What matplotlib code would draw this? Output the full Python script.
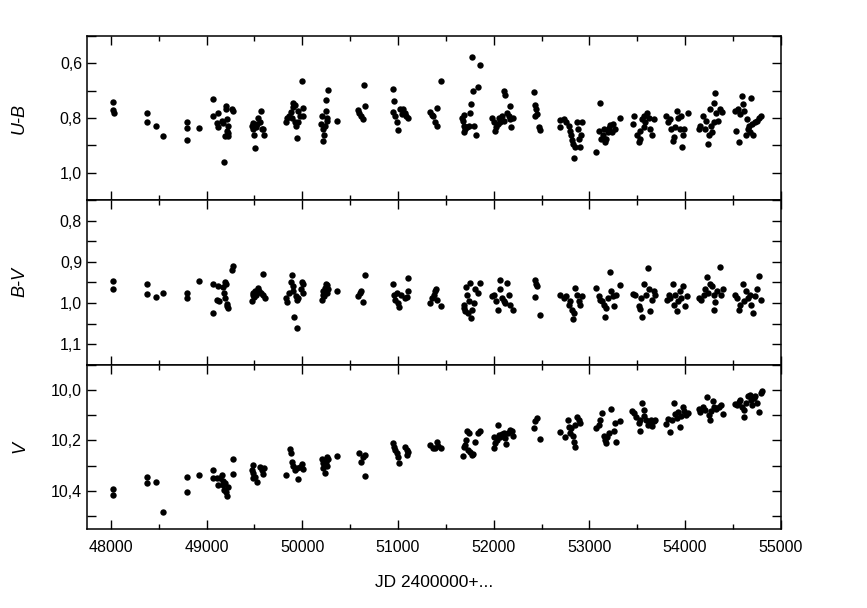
import matplotlib
matplotlib.use("Agg")
import matplotlib.pyplot as plt
from matplotlib.ticker import MultipleLocator, FuncFormatter

plt.rcParams['font.family'] = ['Liberation Sans', 'DejaVu Sans']

# ---------------- U-B ----------------
ub_jd = [48020, 48025, 48030, 48373, 48373, 48470, 48540, 48791, 48791, 48791, 48920,
         49063, 49070, 49115, 49111, 49122, 49157, 49167, 49185, 49199, 49199, 49209, 49219, 49209, 49192, 49226, 49226, 49279, 49261,
         49470, 49481, 49488, 49498, 49505, 49516, 49530, 49540, 49557, 49564, 49575, 49592, 49603,
         49826, 49843, 49864, 49878, 49888, 49899, 49906, 49923, 49923, 49934, 49948, 49958, 49958, 49976, 50000, 50003, 50003,
         50202, 50191, 50212, 50219, 50226, 50237, 50244, 50254, 50261, 50247, 50272, 50359,
         50585, 50596, 50613, 50630, 50655, 50648,
         50951, 50958, 50951, 50968, 50986, 51003, 51021, 51038, 51055, 51073, 51083, 51108,
         51334, 51352, 51369, 51387, 51404, 51404, 51449,
         51669, 51679, 51686, 51693, 51704, 51686, 51721, 51739, 51749, 51763, 51774, 51784, 51791, 51819, 51836, 51854,
         51983, 52007, 52017, 52028, 52042, 52052, 52063, 52087, 52105, 52111, 52122, 52139, 52157, 52167, 52174, 52181, 52202,
         52425, 52436, 52446, 52453, 52436, 52470, 52488,
         52690, 52697, 52739, 52760, 52784, 52801, 52812, 52819, 52829, 52843, 52854, 52871, 52878, 52888, 52906, 52923, 52913,
         53073, 53097, 53115, 53122, 53143, 53157, 53167, 53178, 53192, 53202, 53219, 53237, 53247, 53272, 53317,
         53456, 53463, 53498, 53516, 53526, 53533, 53550, 53568, 53585, 53603, 53620, 53638, 53655, 53672, 53575,
         53805, 53819, 53840, 53854, 53874, 53881, 53899, 53916, 53923, 53944, 53958, 53969, 53979, 53993, 54028,
         54143, 54160, 54188, 54205, 54223, 54240, 54247, 54258, 54272, 54282, 54300, 54306, 54317, 54327, 54341, 54362, 54387,
         54526, 54533, 54554, 54568, 54578, 54596, 54606, 54620, 54641, 54648, 54655, 54665, 54683, 54693, 54700, 54711, 54735, 54752, 54770, 54794]
ub_val = [0.741, 0.770, 0.783, 0.783, 0.816, 0.828, 0.867, 0.816, 0.837, 0.879, 0.837,
          0.729, 0.794, 0.780, 0.819, 0.834, 0.810, 0.818, 0.962, 0.756, 0.768, 0.804, 0.828, 0.846, 0.867, 0.867, 0.854, 0.774, 0.768,
          0.828, 0.840, 0.819, 0.861, 0.911, 0.834, 0.822, 0.801, 0.816, 0.776, 0.840, 0.840, 0.861,
          0.813, 0.801, 0.794, 0.777, 0.798, 0.758, 0.744, 0.753, 0.816, 0.828, 0.873, 0.813, 0.774, 0.792, 0.666, 0.762, 0.792,
          0.792, 0.822, 0.840, 0.885, 0.863, 0.828, 0.734, 0.798, 0.810, 0.774, 0.696, 0.810,
          0.770, 0.780, 0.794, 0.804, 0.756, 0.681,
          0.693, 0.738, 0.777, 0.794, 0.816, 0.842, 0.768, 0.786, 0.768, 0.780, 0.794, 0.801,
          0.777, 0.789, 0.794, 0.816, 0.830, 0.762, 0.666,
          0.798, 0.810, 0.789, 0.828, 0.840, 0.851, 0.834, 0.828, 0.780, 0.750, 0.578, 0.702, 0.828, 0.861, 0.686, 0.606,
          0.798, 0.816, 0.846, 0.834, 0.822, 0.801, 0.813, 0.792, 0.810, 0.702, 0.717, 0.780, 0.794, 0.756, 0.804, 0.834, 0.801,
          0.704, 0.753, 0.768, 0.786, 0.794, 0.834, 0.842,
          0.806, 0.834, 0.804, 0.816, 0.828, 0.846, 0.861, 0.881, 0.893, 0.945, 0.905, 0.816, 0.840, 0.875, 0.905, 0.816, 0.863,
          0.923, 0.846, 0.744, 0.875, 0.863, 0.840, 0.887, 0.875, 0.851, 0.837, 0.825, 0.851, 0.822, 0.840, 0.798,
          0.822, 0.794, 0.863, 0.887, 0.875, 0.846, 0.804, 0.792, 0.816, 0.780, 0.801, 0.840, 0.863, 0.804, 0.834,
          0.792, 0.816, 0.804, 0.840, 0.885, 0.869, 0.834, 0.774, 0.801, 0.840, 0.792, 0.905, 0.863, 0.840, 0.780,
          0.840, 0.830, 0.794, 0.840, 0.810, 0.893, 0.863, 0.768, 0.828, 0.851, 0.816, 0.746, 0.708, 0.780, 0.810, 0.768, 0.777,
          0.774, 0.849, 0.768, 0.887, 0.786, 0.720, 0.750, 0.774, 0.863, 0.804, 0.840, 0.828, 0.851, 0.726, 0.822, 0.861, 0.816, 0.810, 0.798, 0.792]

# ---------------- B-V ----------------
bv_jd = [48024, 48024, 48373, 48373, 48470, 48540, 48791, 48791, 48920,
         49063, 49070, 49115, 49111, 49129, 49174, 49185, 49192, 49202, 49192, 49209, 49219, 49209, 49261, 49279,
         49470, 49481, 49488, 49495, 49505, 49516, 49540, 49550, 49564, 49585, 49592, 49610,
         49826, 49836, 49864, 49878, 49888, 49899, 49906, 49916, 49934, 49941, 49948, 49958, 49983, 49993, 50003, 50010,
         50202, 50212, 50219, 50226, 50237, 50247, 50254, 50261, 50272, 50359,
         50585, 50603, 50613, 50630, 50655,
         50951, 50958, 50968, 50986, 51003, 51014, 51028, 51073, 51090, 51101, 51108,
         51334, 51352, 51376, 51387, 51397, 51411, 51446,
         51686, 51693, 51704, 51714, 51721, 51728, 51739, 51749, 51763, 51774, 51791, 51808, 51833, 51854,
         51983, 52007, 52028, 52042, 52063, 52070, 52087, 52105, 52122, 52139, 52157, 52174, 52202,
         52436, 52446, 52453, 52429, 52488,
         52690, 52732, 52760, 52784, 52801, 52819, 52829, 52836, 52854, 52871, 52888, 52906, 52923,
         53073, 53097, 53115, 53132, 53150, 53167, 53178, 53192, 53212, 53226, 53247, 53261, 53282, 53317,
         53456, 53481, 53516, 53533, 53540, 53554, 53575, 53596, 53610, 53620, 53638, 53655, 53672, 53690,
         53812, 53829, 53847, 53874, 53881, 53899, 53916, 53923, 53944, 53958, 53979, 54003, 54021,
         54143, 54167, 54195, 54212, 54230, 54240, 54258, 54282, 54300, 54306, 54317, 54334, 54362, 54376, 54397,
         54526, 54543, 54561, 54578, 54606, 54620, 54641, 54655, 54676, 54690, 54711, 54735, 54752, 54770, 54794]
bv_val = [0.947, 0.967, 0.955, 0.977, 0.986, 0.976, 0.976, 0.988, 0.947,
          1.024, 0.955, 0.959, 0.994, 0.996, 0.962, 0.976, 0.949, 0.955, 0.989, 1.002, 1.012, 1.008, 0.921, 0.910,
          0.996, 0.980, 0.976, 0.986, 0.971, 0.980, 0.963, 0.971, 0.976, 0.929, 0.980, 0.988,
          0.988, 0.998, 0.976, 0.949, 0.931, 0.959, 0.971, 1.035, 0.984, 1.061, 0.994, 0.988, 0.967, 0.949, 0.955, 0.976,
          0.992, 0.980, 0.971, 0.984, 0.963, 0.955, 0.957, 0.976, 0.967, 0.971,
          0.984, 0.976, 0.971, 0.998, 0.931,
          0.955, 0.980, 0.994, 0.976, 1.000, 1.011, 0.980, 0.989, 0.986, 0.971, 0.940,
          1.000, 0.988, 0.980, 0.970, 0.965, 0.994, 1.007,
          1.004, 1.012, 1.020, 0.962, 0.980, 1.024, 0.996, 0.951, 1.037, 1.016, 1.000, 0.967, 0.976, 0.951,
          0.984, 0.980, 0.996, 1.016, 0.943, 0.967, 0.988, 0.996, 1.000, 0.951, 0.980, 1.004, 1.016,
          0.945, 0.955, 0.959, 0.986, 1.029,
          0.980, 0.988, 0.984, 1.004, 0.996, 1.016, 1.038, 1.024, 0.963, 0.980, 0.996, 1.004, 0.984,
          0.963, 0.984, 0.992, 0.996, 1.004, 1.033, 1.012, 0.988, 0.924, 0.971, 0.984, 1.008, 0.980, 0.957,
          0.977, 0.980, 1.008, 1.014, 0.989, 1.035, 0.955, 0.980, 0.914, 0.965, 1.020, 0.994, 0.971, 0.980,
          0.994, 0.980, 0.988, 0.953, 1.004, 0.980, 1.020, 0.996, 0.971, 0.988, 0.959, 1.008, 0.984,
          0.988, 0.994, 0.980, 0.967, 0.937, 0.976, 0.955, 0.959, 1.016, 0.980, 0.998, 0.971, 0.913, 0.980, 0.967,
          0.980, 0.988, 1.016, 1.004, 0.953, 0.996, 0.971, 0.988, 0.980, 1.004, 1.024, 0.984, 0.967, 0.935, 0.992]

# ---------------- V ----------------
v_jd = [48024, 48024, 48373, 48373, 48470, 48540, 48791, 48791, 48920,
        49070, 49063, 49104, 49115, 49139, 49157, 49167, 49174, 49185, 49192, 49202, 49209, 49219, 49272, 49279,
        49481, 49470, 49488, 49481, 49505, 49530, 49557, 49575, 49592, 49603,
        49829, 49871, 49878, 49892, 49906, 49923, 49941, 49958, 49976, 49993, 50003,
        50202, 50212, 50219, 50237, 50247, 50254, 50261, 50272, 50359,
        50596, 50610, 50630, 50655, 50655,
        50951, 50958, 50968, 50986, 51003, 51014, 51073, 51090, 51097, 51108,
        51334, 51362, 51387, 51404, 51421, 51446,
        51679, 51686, 51704, 51714, 51721, 51728, 51739, 51756, 51774, 51784, 51808, 51833, 51854,
        52000, 52007, 52017, 52035, 52042, 52052, 52070, 52087, 52105, 52122, 52132, 52146, 52167, 52192, 52202,
        52418, 52436, 52453, 52488,
        52690, 52749, 52777, 52784, 52794, 52808, 52829, 52836, 52847, 52854, 52871, 52888, 52906,
        53073, 53097, 53115, 53132, 53150, 53167, 53178, 53185, 53202, 53226, 53254, 53272, 53282, 53317,
        53446, 53463, 53491, 53516, 53526, 53533, 53550, 53568, 53575, 53596, 53610, 53631, 53644, 53655, 53672, 53690,
        53805, 53819, 53847, 53864, 53881, 53899, 53916, 53923, 53944, 53958, 53979, 53993, 54014, 54028,
        54143, 54160, 54188, 54212, 54230, 54247, 54258, 54272, 54293, 54306, 54327, 54352, 54376, 54397,
        54526, 54543, 54561, 54578, 54596, 54613, 54620, 54641, 54655, 54676, 54690, 54700, 54718, 54735, 54752, 54770, 54794, 54805]
v_val = [10.393, 10.416, 10.343, 10.367, 10.366, 10.484, 10.346, 10.405, 10.337,
         10.317, 10.350, 10.350, 10.376, 10.350, 10.337, 10.359, 10.376, 10.396, 10.370, 10.403, 10.418, 10.383, 10.275, 10.333,
         10.297, 10.317, 10.330, 10.350, 10.343, 10.363, 10.304, 10.317, 10.333, 10.310,
         10.337, 10.235, 10.248, 10.284, 10.301, 10.317, 10.310, 10.352, 10.306, 10.293, 10.314,
         10.275, 10.290, 10.310, 10.327, 10.284, 10.301, 10.264, 10.275, 10.261,
         10.251, 10.284, 10.267, 10.257, 10.339,
         10.209, 10.227, 10.238, 10.251, 10.264, 10.288, 10.224, 10.257, 10.238, 10.244,
         10.218, 10.231, 10.231, 10.205, 10.222, 10.231,
         10.261, 10.227, 10.218, 10.198, 10.161, 10.238, 10.169, 10.244, 10.257, 10.253, 10.205, 10.169, 10.161,
         10.187, 10.231, 10.211, 10.198, 10.139, 10.178, 10.185, 10.174, 10.169, 10.191, 10.214, 10.169, 10.158, 10.161, 10.182,
         10.152, 10.125, 10.112, 10.194,
         10.165, 10.187, 10.119, 10.145, 10.169, 10.152, 10.182, 10.205, 10.227, 10.139, 10.108, 10.121, 10.129,
         10.152, 10.139, 10.119, 10.092, 10.182, 10.198, 10.211, 10.187, 10.172, 10.077, 10.161, 10.132, 10.205, 10.125,
         10.082, 10.092, 10.108, 10.132, 10.161, 10.121, 10.053, 10.079, 10.103, 10.119, 10.139, 10.129, 10.119, 10.143, 10.125, 10.121,
         10.135, 10.116, 10.165, 10.119, 10.053, 10.095, 10.112, 10.086, 10.145, 10.103, 10.066, 10.082, 10.099, 10.092,
         10.077, 10.086, 10.066, 10.079, 10.029, 10.099, 10.121, 10.082, 10.042, 10.066, 10.077, 10.069, 10.059, 10.095,
         10.055, 10.059, 10.046, 10.040, 10.066, 10.108, 10.079, 10.053, 10.026, 10.020, 10.040, 10.059, 10.033, 10.026, 10.050, 10.086, 10.013, 10.003]

panel_labels = ["U-B", "B-V", "V"]
x_label = "JD 2400000+..."

fig = plt.figure(figsize=(8.67, 6.08), dpi=100)
left, right = 0.1003, 0.9005
top, bottom = 0.941, 0.130
h = (top - bottom) / 3.0
axes = [fig.add_axes([left, top - (i + 1) * h, right - left, h]) for i in range(3)]

comma = FuncFormatter(lambda v, p: ("%.1f" % v).replace(".", ","))

specs = [
    (ub_jd, ub_val, (1.1, 0.5), 0.2, 0.1),
    (bv_jd, bv_val, (1.15, 0.75), 0.1, 0.05),
    (v_jd, v_val, (10.55, 9.9), 0.2, 0.1),
]

for ax, (xs, ys, ylim, maj, mnr), lab in zip(axes, specs, panel_labels):
    ax.plot(xs, ys, 'o', color='black', markersize=4.6, markeredgewidth=0, linestyle='none')
    ax.set_xlim(47750, 55000)
    ax.set_ylim(*ylim)
    ax.xaxis.set_major_locator(MultipleLocator(1000))
    ax.xaxis.set_minor_locator(MultipleLocator(500))
    ax.yaxis.set_major_locator(MultipleLocator(maj))
    ax.yaxis.set_minor_locator(MultipleLocator(mnr))
    ax.yaxis.set_major_formatter(comma)
    ax.tick_params(which='both', direction='in', top=True, right=True,
                   width=1.0, labelsize=11.5, colors='black')
    ax.tick_params(which='major', length=6.5)
    ax.tick_params(axis='y', which='minor', length=6.5)
    ax.tick_params(axis='x', which='minor', length=3.8)
    for s in ax.spines.values():
        s.set_linewidth(1.1)
    ax.set_ylabel(lab, fontsize=13, style='italic')
    ax.yaxis.set_label_coords(-0.085, 0.5)
    if ax is not axes[-1]:
        ax.tick_params(labelbottom=False)

axes[-1].tick_params(axis='x', pad=8)
axes[-1].set_xlabel(x_label, fontsize=12.5, labelpad=14)

fig.savefig("out.png", dpi=100)
